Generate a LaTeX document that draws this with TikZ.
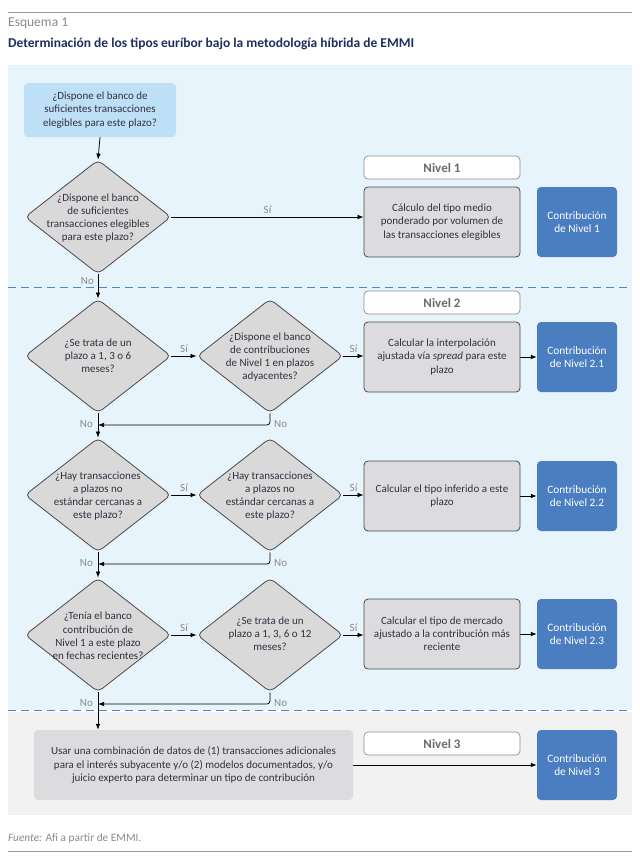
\documentclass[tikz,border=0pt]{standalone}
\usepackage{fontspec}
\setmainfont{Carlito}
\usetikzlibrary{shapes.geometric,arrows.meta}
\definecolor{panelblue}{HTML}{E8F4FB}
\definecolor{qfill}{HTML}{BDE0F6}
\definecolor{dfill}{HTML}{D9D9DA}
\definecolor{dborder}{HTML}{4A4A4A}
\definecolor{gfill}{HTML}{DCDCDE}
\definecolor{bfill}{HTML}{4A7EC0}
\definecolor{hborder}{HTML}{8F8F8F}
\definecolor{htext}{HTML}{6A6A6A}
\definecolor{dashblue}{HTML}{4B87C9}
\definecolor{lgrey}{HTML}{8A8A8A}
\definecolor{titleblue}{HTML}{1F2F5F}
\definecolor{tcol}{HTML}{352F3F}
\definecolor{greypanel}{HTML}{F2F2F2}
\definecolor{rule}{HTML}{9A9A9A}
\begin{document}
\begin{tikzpicture}[x=1pt,y=-1pt,
  diam/.style={diamond, draw=dborder, fill=dfill, line width=0.8pt, rounded corners=5pt,
    minimum width=146pt, minimum height=114pt, inner sep=0pt},
  qtext/.style={align=center, font=\fontsize{11}{13.2}\selectfont, text=tcol, inner sep=0pt},
  qbox/.style={rectangle, rounded corners=4pt, fill=qfill, minimum width=152pt, minimum height=54pt,
    align=center, font=\fontsize{11}{13.2}\selectfont, text=tcol, inner sep=0pt},
  gbox/.style={rectangle, rounded corners=4pt, draw=dborder, fill=gfill, line width=0.8pt,
    minimum width=156pt, minimum height=70pt, align=center, font=\fontsize{11}{13.2}\selectfont,
    text=tcol, inner sep=2pt},
  g3box/.style={rectangle, rounded corners=4pt, fill=gfill, minimum width=319pt, minimum height=70pt,
    align=center, font=\fontsize{11}{13.8}\selectfont, text=tcol, inner sep=2pt},
  bbox/.style={rectangle, rounded corners=4pt, fill=bfill, minimum width=80pt, minimum height=70pt,
    align=center, text=white, font=\fontsize{11.3}{13.5}\selectfont, inner sep=1pt},
  hbox/.style={rectangle, rounded corners=4pt, draw=hborder, fill=white, line width=0.7pt,
    minimum width=156pt, minimum height=23pt, font=\fontsize{13}{14}\selectfont\bfseries, text=htext},
  arr/.style={-{Latex[length=6pt,width=4.5pt]}, line width=0.75pt, black},
  lbl/.style={text=lgrey, font=\fontsize{11}{12}\selectfont, inner sep=1pt},
  dashl/.style={draw=dashblue, line width=0.9pt, dash pattern=on 8pt off 5pt}
]
\useasboundingbox (0,0) rectangle (640,857);
\fill[white] (0,0) rectangle (640,857);

% rules and headings
\draw[rule, line width=0.9pt] (8,12.5) -- (632,12.5);
\draw[rule, line width=0.9pt] (8,851) -- (632,851);
\node[anchor=west, text=lgrey, font=\fontsize{13.5}{15}\selectfont, inner sep=0pt] (esq) at (8,23) {Esquema 1};
\node[anchor=west, text=titleblue, font=\fontsize{13.5}{15}\selectfont\bfseries, inner sep=0pt] (title) at (8,44)
  {Determinación de los tipos euríbor bajo la metodología híbrida de EMMI};
\node[anchor=west, text=lgrey, font=\fontsize{11.3}{13}\selectfont, inner sep=0pt] (src) at (8,838)
  {\textit{Fuente:} Afi a partir de EMMI.};

% panels
\fill[panelblue] (8,65) rectangle (632,710);
\fill[greypanel] (8,712) rectangle (632,815);
\draw[dashl] (8,287) -- (632,287);
\draw[dashl] (8,710) -- (632,710);

% top question
\node[qbox] (q0) at (100,110) {¿Dispone el banco de\\suficientes transacciones\\elegibles para este plazo?};

% Nivel 1
\node[diam] (D1) at (98,217) {};
\node[qtext] (tD1) at (98,218) {¿Dispone el banco\\de suficientes\\transacciones elegibles\\para este plazo?};
\node[hbox] (h1) at (442,167.5) {Nivel 1};
\node[gbox] (g1) at (442,222) {Cálculo del tipo medio\\ponderado por volumen de\\las transacciones elegibles};
\node[bbox] (b1) at (577,222) {Contribución\\de Nivel 1};

% Nivel 2 rows
\node[diam] (DA) at (98,356) {};
\node[qtext] (tDA) at (98,356) {¿Se trata de un\\plazo a 1, 3 o 6\\meses?};
\node[diam] (DB) at (270,356) {};
\node[qtext] (tDB) at (270,357) {¿Dispone el banco\\de contribuciones\\de Nivel 1 en plazos\\adyacentes?};
\node[hbox] (h2) at (442,302.5) {Nivel 2};
\node[gbox] (g2) at (442,357) {Calcular la interpolación\\ajustada vía \textit{spread} para este\\plazo};
\node[bbox] (b2) at (577,357) {Contribución\\de Nivel 2.1};

\node[diam] (DC) at (98,495) {};
\node[qtext] (tDC) at (98,496) {¿Hay transacciones\\a plazos no\\estándar cercanas a\\este plazo?};
\node[diam] (DD) at (270,495) {};
\node[qtext] (tDD) at (270,496) {¿Hay transacciones\\a plazos no\\estándar cercanas a\\este plazo?};
\node[gbox] (g3) at (442,496) {Calcular el tipo inferido a este\\plazo};
\node[bbox] (b3) at (577,496) {Contribución\\de Nivel 2.2};

\node[diam] (DE) at (98,635) {};
\node[qtext] (tDE) at (98,636) {¿Tenía el banco\\contribución de\\Nivel 1 a este plazo\\en fechas recientes?};
\node[diam] (DF) at (270,635) {};
\node[qtext] (tDF) at (270,634) {¿Se trata de un\\plazo a 1, 3, 6 o 12\\meses?};
\node[gbox] (g4) at (442,634) {Calcular el tipo de mercado\\ajustado a la contribución más\\reciente};
\node[bbox] (b4) at (577,634) {Contribución\\de Nivel 2.3};

% Nivel 3
\node[g3box] (g5) at (193.5,765) {Usar una combinación de datos de (1) transacciones adicionales\\para el interés subyacente y/o (2) modelos documentados, y/o\\juicio experto para determinar un tipo de contribución};
\node[hbox] (h3) at (442,743.5) {Nivel 3};
\node[bbox] (b5) at (577,765) {Contribución\\de Nivel 3};

% junction coordinates
\coordinate (jA) at (98,425);
\coordinate (jC) at (98,564);
\coordinate (jE) at (98,704);

% connectors
\draw[arr] (q0.south) -- (D1.north);
\draw[arr] (D1.east) -- node[lbl, above=2pt] {Sí} (D1.east -| g1.west);
\draw[arr] (D1.south) -- (DA.north);
\node[lbl, anchor=east] (noD1) at (95,281) {No};

\draw[arr] (DA.east) -- node[lbl, above=2pt] {Sí} (DB.west);
\draw[arr] (DB.east) -- node[lbl, above=2pt] {Sí} (DB.east -| g2.west);
\draw[arr] (g2.east) -- (b2.west);
\draw[arr, rounded corners=3pt] (DB.south) |- (jA);
\draw[arr] (DA.south) -- (DC.north);
\node[lbl, anchor=east] (noA) at (94,424) {No};
\node[lbl, anchor=west] (noB) at (273,424) {No};

\draw[arr] (DC.east) -- node[lbl, above=2pt] {Sí} (DD.west);
\draw[arr] (DD.east) -- node[lbl, above=2pt] {Sí} (DD.east -| g3.west);
\draw[arr] (g3.east) -- (b3.west);
\draw[arr, rounded corners=3pt] (DD.south) |- (jC);
\draw[arr] (DC.south) -- (DE.north);
\node[lbl, anchor=east] (noC) at (94,563) {No};
\node[lbl, anchor=west] (noD) at (273,563) {No};

\draw[arr] (DE.east) -- node[lbl, above=2pt] {Sí} (DF.west);
\draw[arr] (DF.east) -- node[lbl, above=2pt] {Sí} (DF.east -| g4.west);
\draw[arr] (g4.east) -- (b4.west);
\draw[arr, rounded corners=3pt] (DF.south) |- (jE);
\draw[arr] (DE.south) -- (g5.north -| DE.south);
\node[lbl, anchor=east] (noE) at (94,703) {No};
\node[lbl, anchor=west] (noF) at (273,703) {No};

\draw[arr] (g5.east) -- (b5.west);
\end{tikzpicture}
\end{document}
